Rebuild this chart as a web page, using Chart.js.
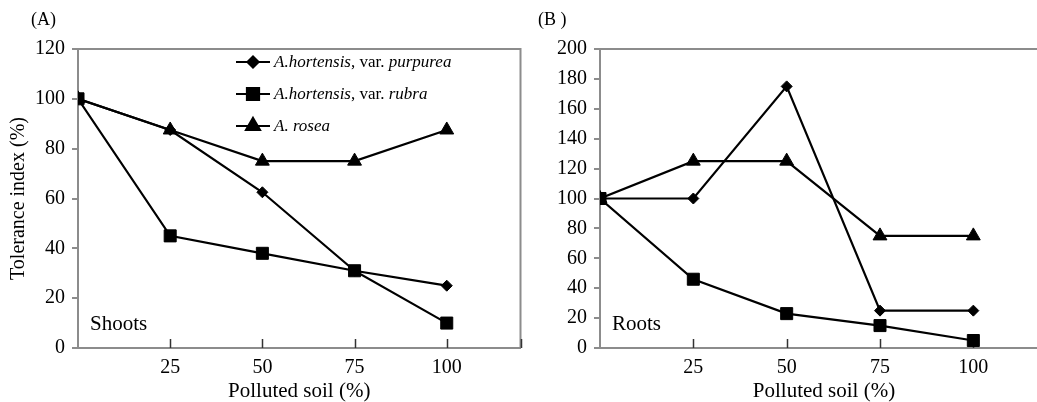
<!DOCTYPE html>
<html>
<head>
<meta charset="utf-8">
<script src="https://cdn.jsdelivr.net/npm/chart.js@4.4.0/dist/chart.umd.min.js"></script>
<style>
  html, body { margin: 0; padding: 0; background: #fff; overflow: hidden; }
  body { width: 1037px; height: 402px; position: relative; }
  .panel { position: absolute; top: 0; height: 402px; }
  #boxA { left: 0; width: 530px; }
  #boxB { left: 520px; width: 540px; }
</style>
</head>
<body>
<div class="panel" id="boxA"><canvas id="chartA"></canvas></div>
<div class="panel" id="boxB"><canvas id="chartB"></canvas></div>
<script>
// dados
const soil = [0, 25, 50, 75, 100];
const soilTicks = [25, 50, 75, 100];

const shootsPurpurea = [100, 87.5, 62.5, 31, 25];
const shootsRubra    = [100, 45, 38, 31, 10];
const shootsRosea    = [100, 87.5, 75, 75, 87.5];

const rootsPurpurea = [100, 100, 175, 25, 25];
const rootsRubra    = [100, 46, 23, 15, 5];
const rootsRosea    = [100, 125, 125, 75, 75];

// legend text parts: [text, italic]
const namePurpurea = [["A.hortensis", true], [", var. ", false], ["purpurea", true]];
const nameRubra    = [["A.hortensis", true], [", var. ", false], ["rubra", true]];
const nameRosea    = [["A. rosea", true]];

const SERIF = "'Liberation Serif', 'Times New Roman', serif";
const GRAY = '#8c8c8c';

function pts(values) {
  return values.map((v, i) => ({ x: soil[i], y: v }));
}

function series(label, values, style, radius) {
  return {
    label: label.map(p => p[0]).join(''),
    parts: label,
    data: pts(values),
    borderColor: '#000',
    backgroundColor: '#000',
    borderWidth: 2.2,
    pointStyle: style,
    pointRadius: radius,
    pointHoverRadius: radius,
    pointBorderWidth: 1,
    fill: false,
    tension: 0
  };
}

// moldura, ticks internos, textos e legenda
const decor = {
  id: 'decor',
  beforeDatasetsDraw(chart, args, opts) {
    const { ctx, chartArea: a } = chart;
    ctx.save();
    ctx.strokeStyle = GRAY;
    ctx.lineWidth = 2;
    ctx.beginPath();
    ctx.moveTo(a.left, a.top);
    ctx.lineTo(a.right, a.top);
    ctx.lineTo(a.right, a.bottom);
    ctx.stroke();
    const xs = chart.scales.x;
    ctx.strokeStyle = '#333';
    ctx.lineWidth = 1.5;
    soilTicks.concat([xs.max]).forEach(v => {
      const px = Math.round(xs.getPixelForValue(v)) + 0.5;
      ctx.beginPath();
      ctx.moveTo(px, a.bottom);
      ctx.lineTo(px, a.bottom - 9);
      ctx.stroke();
    });
    ctx.restore();
  },
  afterDraw(chart, args, opts) {
    const { ctx, chartArea: a } = chart;
    ctx.save();
    ctx.fillStyle = '#000';
    ctx.textBaseline = 'alphabetic';
    ctx.font = '18px ' + SERIF;
    ctx.fillText(opts.panel, opts.panelX, 25);
    ctx.font = '21px ' + SERIF;
    ctx.fillText(opts.part, a.left + 12, a.bottom - 18);

    if (opts.legend) {
      chart.data.datasets.forEach((ds, i) => {
        const y = 62 + i * 32;
        ctx.strokeStyle = '#000';
        ctx.lineWidth = 2.2;
        ctx.beginPath();
        ctx.moveTo(236, y);
        ctx.lineTo(270, y);
        ctx.stroke();
        Chart.helpers.drawPoint(ctx, {
          pointStyle: ds.pointStyle,
          radius: ds.pointRadius,
          rotation: 0,
          borderWidth: 1
        }, 253, y);
        ctx.fill();
        let x = 274;
        ds.parts.forEach(([t, it]) => {
          ctx.font = (it ? 'italic ' : '') + '17px ' + SERIF;
          ctx.fillText(t, x, y + 5);
          x += ctx.measureText(t).width;
        });
      });
    }
    ctx.restore();
  }
};

function makeChart(id, sets, yMax, yWidth, yTitle, padRight, extra) {
  return new Chart(document.getElementById(id), {
    type: 'line',
    data: { datasets: sets },
    plugins: [decor],
    options: {
      responsive: true,
      maintainAspectRatio: false,
      animation: false,
      layout: { padding: { top: 49, right: padRight, left: 0, bottom: 0 } },
      plugins: {
        legend: { display: false },
        tooltip: { enabled: false },
        decor: extra
      },
      scales: {
        x: {
          type: 'linear',
          min: 0,
          max: 120,
          afterBuildTicks: s => { s.ticks = soilTicks.map(v => ({ value: v })); },
          afterFit: s => { s.height = 54; },
          grid: { display: false },
          border: { display: true, color: GRAY, width: 2 },
          ticks: { color: '#000', padding: 0, font: { family: SERIF, size: 20 } },
          title: {
            display: true,
            text: 'Polluted soil (%)',
            color: '#000',
            padding: { top: 0, bottom: 0 },
            font: { family: SERIF, size: 21, lineHeight: 1 }
          }
        },
        y: {
          min: 0,
          max: yMax,
          afterFit: s => { s.width = yWidth; },
          ticks: { stepSize: 20, color: '#000', padding: 7, font: { family: SERIF, size: 20 } },
          grid: { display: true, drawOnChartArea: false, drawTicks: true, tickLength: 6, color: GRAY, lineWidth: 2 },
          border: { display: true, color: GRAY, width: 2 },
          title: {
            display: !!yTitle,
            text: yTitle,
            color: '#000',
            padding: { top: 7, bottom: 0 },
            font: { family: SERIF, size: 20 }
          }
        }
      }
    }
  });
}

makeChart('chartA', [
  series(namePurpurea, shootsPurpurea, 'rectRot', 5.5),
  series(nameRubra, shootsRubra, 'rect', 8.5),
  series(nameRosea, shootsRosea, 'triangle', 8)
], 120, 78, 'Tolerance index (%)', 7, { panel: '(A)', panelX: 31, part: 'Shoots', legend: true });

makeChart('chartB', [
  series(namePurpurea, rootsPurpurea, 'rectRot', 5.5),
  series(nameRubra, rootsRubra, 'rect', 8.5),
  series(nameRosea, rootsRosea, 'triangle', 8)
], 200, 80, '', 12, { panel: '(B )', panelX: 18, part: 'Roots', legend: false });
</script>
</body>
</html>
